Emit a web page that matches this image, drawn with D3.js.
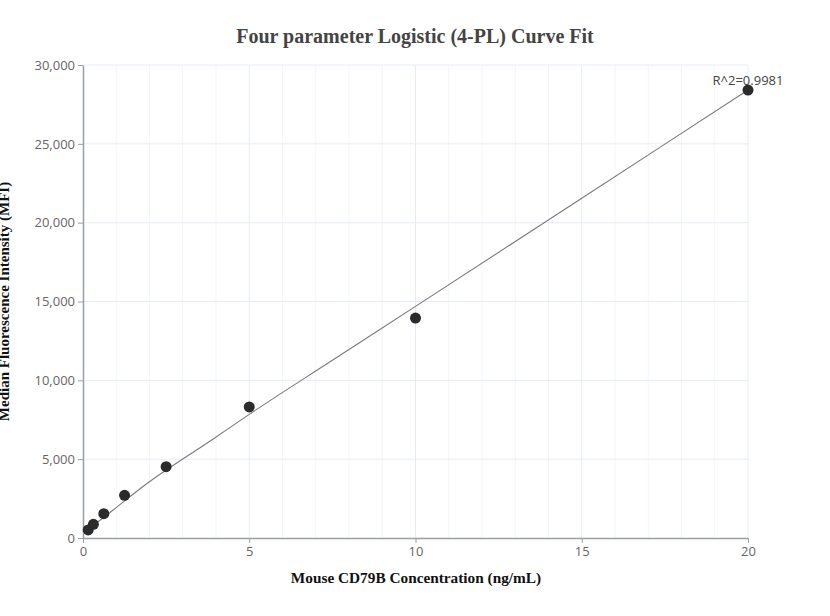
<!DOCTYPE html>
<html>
<head>
<meta charset="utf-8">
<script src="https://cdn.jsdelivr.net/npm/d3@7"></script>
<style>
  body { margin: 0; background: #fff; }
  svg { display: block; }
</style>
</head>
<body>
<svg id="chart" width="830" height="616"></svg>
<script>
// measured points
const concentrations = [0.156, 0.3125, 0.625, 1.25, 2.5, 5, 10, 20];
const mfiValues = [510, 870, 1540, 2710, 4520, 8310, 13950, 28410];

// fitted 4-PL curve
const fitX = [0.156, 0.5, 1, 1.865, 3.87, 5, 7.5, 10, 15, 20];
const fitY = [560, 1110, 1930, 3360, 6214, 7840, 11270, 14690, 21550, 28410];

const xTicks = [0, 5, 10, 15, 20];
const xMinorTicks = d3.range(0, 21, 1);
const yTicks = [0, 5000, 10000, 15000, 20000, 25000, 30000];
const rSquaredLabel = 'R^2=0.9981';

const svg = d3.select('#chart');
const margin = { top: 65, right: 82, bottom: 78, left: 83 };
const width = 830 - margin.left - margin.right;
const height = 616 - margin.top - margin.bottom;

const x = d3.scaleLinear().domain([0, 20]).range([0, width]);
const y = d3.scaleLinear().domain([0, 30000]).range([height, 0]);

const g = svg.append('g')
  .attr('transform', `translate(${margin.left},${margin.top})`);

// minor vertical grid
g.append('g')
  .selectAll('line')
  .data(xMinorTicks.filter(d => d % 5 !== 0))
  .enter()
  .append('line')
  .attr('x1', d => x(d)).attr('x2', d => x(d))
  .attr('y1', 0).attr('y2', height)
  .style('stroke', '#f2f5fa')
  .style('stroke-width', 1);

// major grid
g.append('g')
  .selectAll('line')
  .data(xTicks.filter(d => d > 0))
  .enter()
  .append('line')
  .attr('x1', d => x(d)).attr('x2', d => x(d))
  .attr('y1', 0).attr('y2', height)
  .style('stroke', '#e6ecf5');

g.append('g')
  .selectAll('line')
  .data(yTicks.filter(d => d > 0))
  .enter()
  .append('line')
  .attr('x1', 0).attr('x2', width)
  .attr('y1', d => y(d)).attr('y2', d => y(d))
  .style('stroke', '#e6ecf5');

// axes
const xAxis = g.append('g')
  .attr('transform', `translate(0, ${height})`)
  .call(d3.axisBottom(x).tickValues(xTicks).tickSize(5).tickSizeOuter(0).tickPadding(4));

const yAxis = g.append('g')
  .call(d3.axisLeft(y).tickValues(yTicks).tickSize(5).tickSizeOuter(0).tickPadding(3)
    .tickFormat(d3.format(',')));

[xAxis, yAxis].forEach(ax => {
  ax.select('.domain').style('stroke', '#9a9ea6').style('stroke-width', 1.5);
  ax.selectAll('.tick line').style('stroke', '#9a9ea6');
  ax.selectAll('text')
    .style('font-family', '"Open Sans", sans-serif')
    .style('font-size', '13px')
    .style('fill', '#666');
});

// fit curve
const line = d3.line()
  .x((d, i) => x(fitX[i]))
  .y(d => y(d))
  .curve(d3.curveMonotoneX);

g.append('path')
  .datum(fitY)
  .attr('d', line)
  .style('fill', 'none')
  .style('stroke', '#7a7a7a')
  .style('stroke-width', 1.1);

// points
g.selectAll('.pt')
  .data(mfiValues)
  .enter()
  .append('circle')
  .attr('class', 'pt')
  .attr('cx', (d, i) => x(concentrations[i]))
  .attr('cy', d => y(d))
  .attr('r', 5.5)
  .style('fill', '#2b2b2b');

// R^2 label
g.append('text')
  .attr('x', x(20))
  .attr('y', y(28410) - 5)
  .attr('text-anchor', 'middle')
  .style('font-family', '"Open Sans", sans-serif')
  .style('font-size', '13px')
  .style('fill', '#444')
  .text(rSquaredLabel);

// titles
svg.append('text')
  .attr('x', 415)
  .attr('y', 43)
  .attr('text-anchor', 'middle')
  .style('font-family', '"Liberation Serif", "Times New Roman", serif')
  .style('font-weight', 'bold')
  .style('font-size', '20px')
  .style('fill', '#444')
  .text('Four parameter Logistic (4-PL) Curve Fit');

svg.append('text')
  .attr('x', 416)
  .attr('y', 583)
  .attr('text-anchor', 'middle')
  .style('font-family', '"Liberation Serif", "Times New Roman", serif')
  .style('font-weight', 'bold')
  .style('font-size', '15.3px')
  .style('fill', '#111')
  .text('Mouse CD79B Concentration (ng/mL)');

svg.append('text')
  .attr('transform', `translate(9, ${margin.top + height / 2}) rotate(-90)`)
  .attr('text-anchor', 'middle')
  .style('font-family', '"Liberation Serif", "Times New Roman", serif')
  .style('font-weight', 'bold')
  .style('font-size', '15px')
  .style('fill', '#111')
  .text('Median Fluorescence Intensity (MFI)');
</script>
</body>
</html>
